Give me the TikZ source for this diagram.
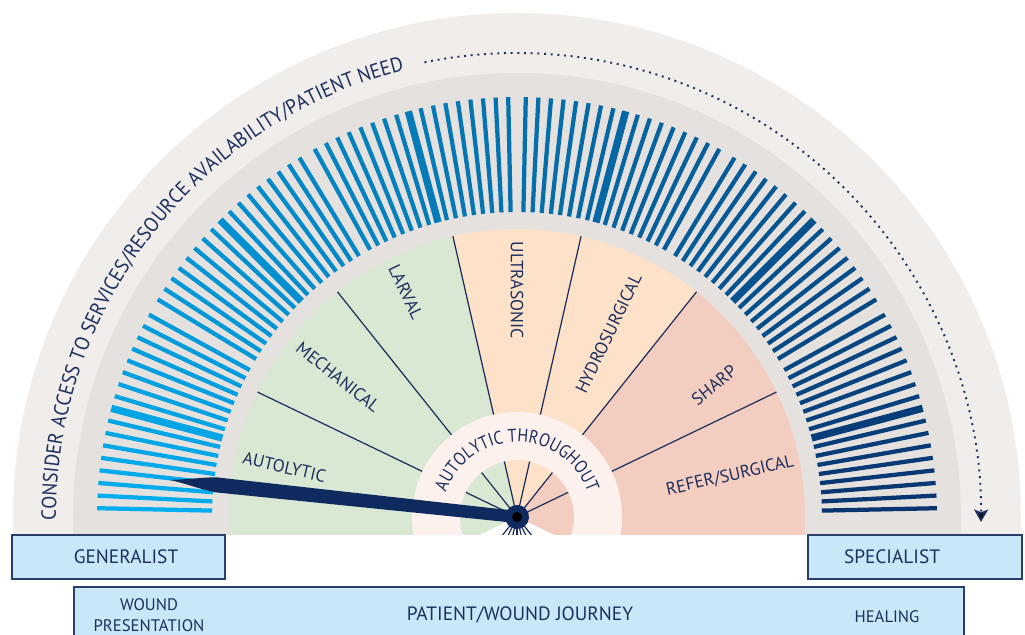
\documentclass[tikz,border=0pt]{standalone}
\usepackage{fontspec}
\setmainfont{PT Sans}
\newfontfamily\arcfam{PT Sans}[FakeStretch=0.93]
\newfontfamily\ringfam{PT Sans}[FakeStretch=0.87]
\usepackage{tikz}
\usetikzlibrary{decorations.text,arrows.meta}
\definecolor{ink}{HTML}{1C2F5E}
\definecolor{bandout}{HTML}{F0EDEB}
\definecolor{bandin}{HTML}{E5E1DE}
\definecolor{sage}{HTML}{D8E8D2}
\definecolor{peach}{HTML}{FDE1C9}
\definecolor{salmon}{HTML}{F3CEC0}
\definecolor{ringc}{HTML}{FCF1EC}
\definecolor{barL}{RGB}{0,174,239}
\definecolor{barR}{RGB}{8,52,110}
\definecolor{needle}{HTML}{0F2A5F}
\definecolor{pin}{HTML}{BFC0C6}
\definecolor{boxfill}{HTML}{C8E8F8}
\definecolor{boxline}{HTML}{2A3D6B}
\newcommand\arcfont{\arcfam\fontsize{11.7}{13}\selectfont}
\newcommand\ringfont{\ringfam\fontsize{10.5}{12}\selectfont}

\begin{document}
\begin{tikzpicture}[x=0.2mm,y=0.2mm,
    lab/.style={text=ink,font=\fontsize{10}{12}\selectfont,inner sep=0pt},
    sep/.style={draw=ink,line width=0.7pt},
    box/.style={draw=boxline,fill=boxfill,line width=0.9pt,inner sep=0pt},
    boxtext/.style={text=ink,font=\fontsize{11}{13}\selectfont,align=center,inner sep=0pt}]
  \useasboundingbox (-517,-118) rectangle (508,517);
  \clip (-517,-118) rectangle (508,517);

  % half disc, cut just under the pivot
  \begin{scope}
    \clip (-520,-18) rectangle (520,520);
    \fill[bandout] (0,0) circle[radius=504];
    \fill[bandin] (0,0) circle[radius=444];
    \fill[sage] (0,0) -- (102.86:288) arc[start angle=102.86,end angle=210,radius=288] -- cycle;
    \fill[peach] (0,0) -- (51.43:288) arc[start angle=51.43,end angle=102.86,radius=288] -- cycle;
    \fill[salmon] (0,0) -- (-30:288) arc[start angle=-30,end angle=51.43,radius=288] -- cycle;
    \fill[white] (0,0) -- (-25.71:57) arc[start angle=-25.71,end angle=-154.29,radius=57] -- cycle;
    \foreach \a in {25.71,51.43,77.14,102.86,128.57,154.29}
      \path[sep] (0,0) -- (\a:288);
    \foreach \a in {-51.43,-64.29,-77.14,-90,-102.86,-115.71,-128.57}
      \path[sep] (0,0) -- (\a:57);
    \fill[ringc,even odd rule] (0,0) circle[radius=105] circle[radius=57];
  \end{scope}

  % scale bars, six groups
  \foreach \g in {0,...,5}
    \foreach \j in {0,...,16}{
      \pgfmathsetmacro\ang{30*\g+1.2+\j*1.725}
      \pgfmathsetmacro\pct{\ang/1.8}
      \ifnum\j=8 \def\bw{1.45mm}\else\def\bw{0.85mm}\fi
      \path[draw,line width=\bw,color=barL!\pct!barR] (\ang:305) -- (\ang:420);
    }

  % texts on arcs
  \path[decorate,decoration={text along path,text align=left,text color=ink,
      text={|\arcfont|CONSIDER ACCESS TO SERVICES/RESOURCE AVAILABILITY/PATIENT NEED}}]
    (180.4:461) arc[start angle=180.4,end angle=80,radius=461];
  \coordinate (dotstart) at (101.5:464);
  \path[draw=ink,line width=1.1pt,dash pattern=on 1.1pt off 2.7pt,-{Stealth[length=7pt,width=8pt,inset=1.5pt]}]
    (dotstart) arc[start angle=101.5,end angle=-0.6,radius=464];
  \path[decorate,decoration={text along path,text align=center,text color=ink,
      text={|\ringfont|AUTOLYTIC THROUGHOUT}}]
    (180:75) arc[start angle=180,end angle=0,radius=75];

  % debridement methods
  \foreach \ang/\rad/\rot/\name/\txt in {167.9/238/-12.9/aut/AUTOLYTIC, 142/227/-38.6/mech/MECHANICAL,
      116.3/251/-64.3/larv/LARVAL, 90/227/-90/ultra/ULTRASONIC, 63.5/205/64.3/hydro/HYDROSURGICAL,
      33.8/237/38.6/sharp/SHARP, 10.9/217/12.9/refer/{REFER/SURGICAL}}
    \node[lab,rotate=\rot] (\name) at (\ang:\rad) {\txt};

  % pointer
  \begin{scope}[rotate=173.9]
    \fill[needle] (0,6) -- (303,7.5) .. controls (318,6) and (332,2) .. (350,0)
      .. controls (332,-2) and (318,-6) .. (303,-7.5) -- (0,-6) -- cycle;
    \fill[needle] (0,0) circle[radius=12];
    \fill[pin] (0,0) circle[radius=5];
  \end{scope}

  % boxes
  \node[box,minimum width=42.6mm,minimum height=8.8mm] (gen) at (-398.5,-40) {};
  \node[box,minimum width=42.8mm,minimum height=8.8mm] (spec) at (398,-40) {};
  \node[box,minimum width=178mm,minimum height=14mm] (journey) at (2,-105) {};
  \node[boxtext] (gentext) at (-391,-40) {GENERALIST};
  \node[boxtext] (spectext) at (375,-40) {SPECIALIST};
  \node[boxtext,font=\fontsize{9.5}{12}\selectfont] (start) at (-368,-98) {WOUND\\PRESENTATION};
  \node[boxtext] (jtext) at (3,-98) {PATIENT/WOUND JOURNEY};
  \node[boxtext,font=\fontsize{9.5}{12}\selectfont] (heal) at (370,-100) {HEALING};
\end{tikzpicture}
\end{document}
